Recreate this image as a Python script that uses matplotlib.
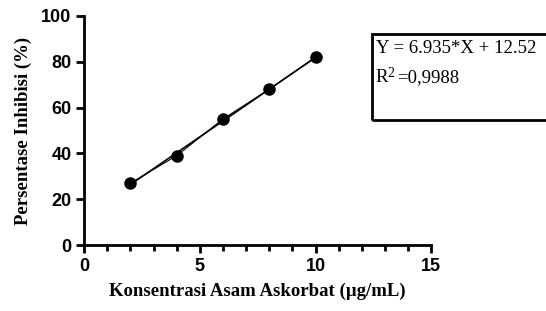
import numpy as np
import matplotlib.pyplot as plt
from matplotlib.patches import Rectangle
from matplotlib.ticker import MultipleLocator

# data
konsentrasi = [2, 4, 6, 8, 10]
inhibisi = [27, 39, 55, 68, 82]
slope = 6.935
intercept = 12.52
eq_text = "Y = 6.935*X + 12.52"
r2_value = "=0,9988"

fig = plt.figure(figsize=(5.46, 3.11), dpi=100)
ax = fig.add_axes([0.154, 0.212, 0.636, 0.737])

x_fit = np.array([konsentrasi[0], konsentrasi[-1]])
ax.plot(x_fit, slope * x_fit + intercept, color='black', lw=1.2)
ax.plot(konsentrasi, inhibisi, color='black', lw=0.8, marker='o', markersize=8)

ax.set_xlim(0, 15)
ax.set_ylim(0, 100)
ax.xaxis.set_major_locator(MultipleLocator(5))
ax.xaxis.set_minor_locator(MultipleLocator(1))
ax.yaxis.set_major_locator(MultipleLocator(20))
for s in ['top', 'right']:
    ax.spines[s].set_visible(False)
for s in ['left', 'bottom']:
    ax.spines[s].set_linewidth(2)
ax.tick_params(which='major', width=2, length=6, labelsize=13, pad=3)
ax.tick_params(which='minor', width=2, length=4)
for lab in ax.get_xticklabels() + ax.get_yticklabels():
    lab.set_fontweight('bold')
    lab.set_family('Liberation Sans')

ax.set_xlabel("Konsentrasi Asam Askorbat (µg/mL)", family='Liberation Serif',
              fontweight='bold', fontsize=13.5, labelpad=6)
ax.set_ylabel("Persentase Inhibisi (%)", family='Liberation Serif',
              fontweight='bold', fontsize=13.5, labelpad=7)

# equation box
fig.patches.append(Rectangle((0.681, 0.614), 0.4, 0.277, transform=fig.transFigure,
                             fill=False, edgecolor='black', lw=2, clip_on=False))
fig.text(0.688, 0.870, eq_text, family='Liberation Serif', fontsize=13.5, va='top')
fig.text(0.688, 0.778, "R", family='Liberation Serif', fontsize=13.5, va='top')
fig.text(0.710, 0.785, "2", family='Liberation Serif', fontsize=10, va='top')
fig.text(0.727, 0.778, r2_value, family='Liberation Serif', fontsize=13.5, va='top')

fig.savefig('out.png', dpi=100)
